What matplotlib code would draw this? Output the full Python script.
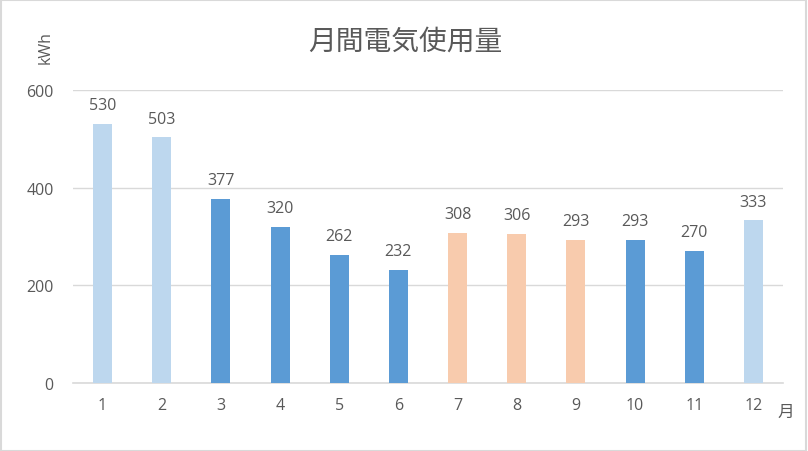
import matplotlib
matplotlib.use("Agg")
import matplotlib.pyplot as plt
from matplotlib.patches import Rectangle

plt.rcParams['font.family'] = ['Open Sans', 'Noto Sans CJK JP', 'DejaVu Sans']

# data
months = ['1', '2', '3', '4', '5', '6', '7', '8', '9', '10', '11', '12']
usage = [530, 503, 377, 320, 262, 232, 308, 306, 293, 293, 270, 333]
season = ['w', 'w', 'm', 'm', 'm', 'm', 's', 's', 's', 'm', 'm', 'w']

colors = {'w': '#BDD7EE', 'm': '#5B9BD5', 's': '#F8CBAD'}
txt = '#595959'

fig = plt.figure(figsize=(8.08, 4.52), dpi=100)
ax = fig.add_axes([73 / 808, 68 / 452, 710 / 808, 293 / 452])

x = list(range(len(months)))
bars = ax.bar(x, usage, width=0.32, color=[colors[s] for s in season], zorder=3)

for xi, v in zip(x, usage):
    ax.text(xi, v + 22, str(v), ha='center', va='bottom', fontsize=11.5, color=txt)

ax.set_xlim(-0.5, 11.5)
ax.set_ylim(0, 600)
ax.set_yticks([0, 200, 400, 600])
ax.set_xticks(x)
ax.set_xticklabels(months)
ax.tick_params(axis='both', length=0, labelsize=11.5, labelcolor=txt)
ax.tick_params(axis='x', pad=10)
ax.tick_params(axis='y', pad=14)
ax.grid(axis='y', color='#D9D9D9', linewidth=1, zorder=0)
for s in ['top', 'right', 'left']:
    ax.spines[s].set_visible(False)
ax.spines['bottom'].set_color('#D9D9D9')
ax.spines['bottom'].set_linewidth(1.2)

fig.text(405 / 808, 1 - 42 / 452, '月間電気使用量', ha='center', va='center', fontsize=20,
         color=txt, family=['Noto Sans CJK JP', 'DejaVu Sans'])
fig.text(46 / 808, 1 - 48 / 452, 'kWh', ha='center', va='center', rotation=90, fontsize=11.5, color=txt)
fig.text(786 / 808, 1 - 412 / 452, '月', ha='center', va='center', fontsize=12, color=txt,
         family=['Noto Sans CJK JP', 'DejaVu Sans'])

fig.patches.append(Rectangle((0.001, 0.001), 0.997, 0.996, transform=fig.transFigure,
                             fill=False, edgecolor='#D9D9D9', linewidth=1.5))

fig.savefig('out.png', dpi=100)
